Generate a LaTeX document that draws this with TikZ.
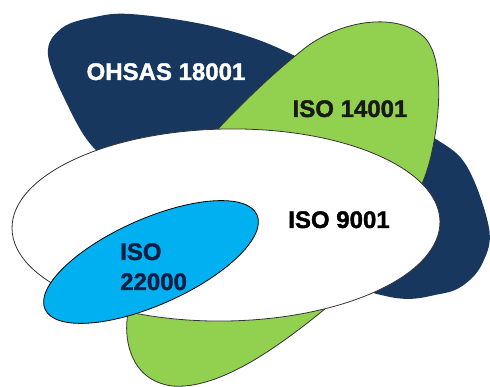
\documentclass[tikz,border=0pt]{standalone}
\usepackage{fontspec}
\setmainfont{Liberation Sans}[BoldFeatures={FakeBold=1.5}]
\usetikzlibrary{shapes.geometric}
\definecolor{navy}{HTML}{17375E}
\definecolor{leaf}{HTML}{92D050}
\definecolor{sky}{HTML}{00B0F0}
\definecolor{labelnavy}{HTML}{0B1E45}
\begin{document}
\begin{tikzpicture}[x=1pt,y=-1pt,
  lbl/.style={font=\fontsize{24}{30}\selectfont\bfseries, inner sep=0pt},
  rim/.style={draw=black!80, line width=0.8pt}]
\useasboundingbox (0,0) rectangle (490,387);
\fill[white] (0,0) rectangle (490,387);

% OHSAS 18001 blob (bottom layer)
\fill[navy] plot[smooth cycle, tension=0.6] coordinates {
  (48,55) (62,28) (95,17) (130,14) (197,23) (250,37) (293,55) (360,90)
  (430,135) (466,165) (489,228) (483,262) (465,284) (440,294) (390,297)
  (300,265) (200,200) (120,163) (93,147) (70,110)};

% ISO 14001 teardrop
\filldraw[fill=leaf, rim] (217,130)
  .. controls (245,100) and (275,72) .. (300,52)
  .. controls (340,18) and (400,12) .. (425,38)
  .. controls (445,60) and (440,120) .. (430,160)
  .. controls (415,220) and (360,280) .. (320,313)
  .. controls (280,345) and (220,390) .. (172,386)
  .. controls (130,380) and (125,340) .. (127,320)
  .. controls (135,250) and (180,170) .. cycle;

% ISO 9001 ellipse
\node[ellipse, fill=white, rim, minimum width=428pt, minimum height=192pt,
      inner sep=0pt, rotate=1] (quality) at (226,225) {};

% ISO 22000 ellipse
\node[ellipse, fill=sky, rim, draw=black, minimum width=232pt, minimum height=86pt,
      inner sep=0pt, rotate=24] (food) at (151,262) {};

% labels
\node[lbl, text=white, anchor=base] (ohsas) at (166,80) {OHSAS 18001};
\node[lbl, text=black!90, anchor=base] (env) at (350,117) {ISO 14001};
\node[lbl, text=black, anchor=base] (qlabel) at (339,228) {ISO 9001};
\node[lbl, text=labelnavy, anchor=base west] (flabelA) at (120,260) {ISO};
\node[lbl, text=labelnavy, anchor=base west] (flabelB) at (120,290) {22000};
\end{tikzpicture}
\end{document}
